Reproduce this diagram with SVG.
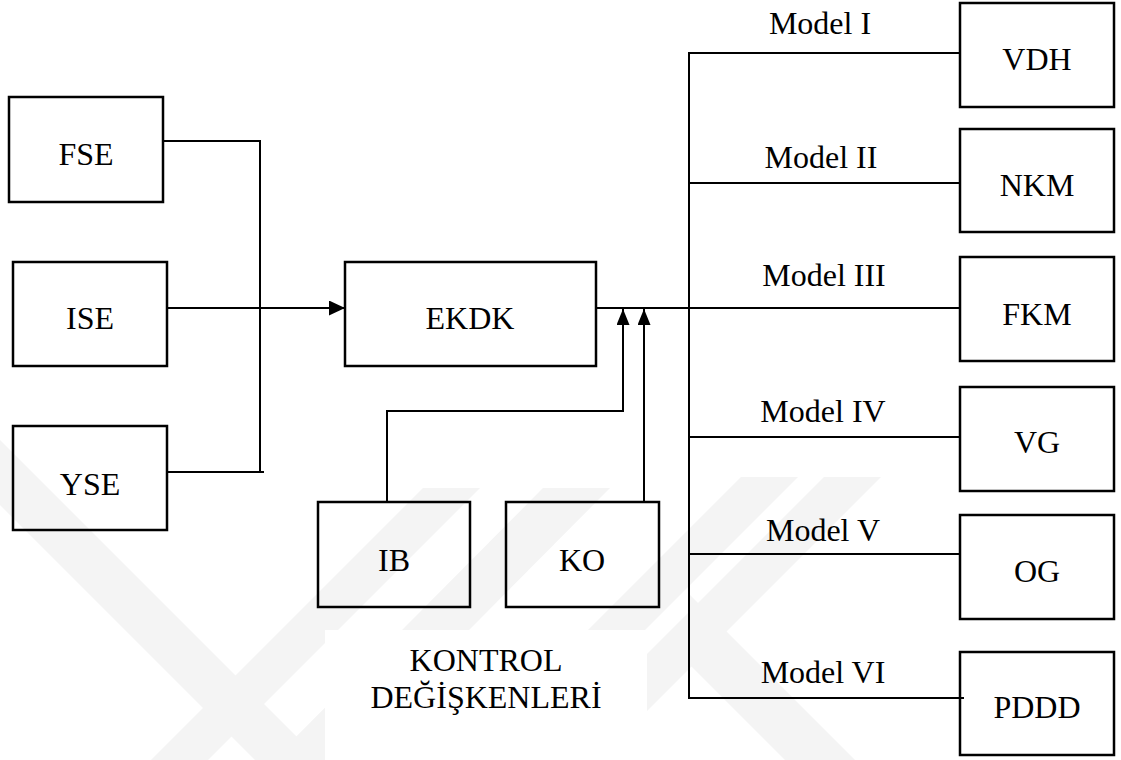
<svg xmlns="http://www.w3.org/2000/svg" width="1121" height="760" viewBox="0 0 1121 760">
<style>
  .box { fill: none; stroke: #000; stroke-width: 2.5; }
  .ln { fill: none; stroke: #000; stroke-width: 2; }
  .t { font-family: 'Liberation Serif', 'DejaVu Serif', serif; font-size: 32px; fill: #000; text-anchor: middle; }
  .wm { fill: #f4f4f4; stroke: none; }
</style>
<defs>
  <marker id="arr" viewBox="0 0 16 15" refX="16" refY="7.5" markerWidth="16" markerHeight="15" markerUnits="userSpaceOnUse" orient="auto">
    <path d="M0,0 L16,7.5 L0,15 Z" fill="#000"/>
  </marker>
  <marker id="arrUp" viewBox="0 0 16 13" refX="16" refY="6.5" markerWidth="16" markerHeight="13" markerUnits="userSpaceOnUse" orient="auto">
    <path d="M0,0 L16,6.5 L0,13 Z" fill="#000"/>
  </marker>
</defs>
<rect width="1121" height="760" fill="#fff"/>
<g id="watermark">
  <polygon class="wm" points="0,440 0,505 255,760 320,760"/>
  <polygon class="wm" points="423,488 480,488 208,760 151,760"/>
  <polygon class="wm" points="543,488 610,488 340,760 273,760"/>
  <polygon class="wm" points="741,477 798,477 515,760 458,760"/>
  <polygon class="wm" points="824,477 881,477 598,760 541,760"/>
  <polygon class="wm" points="690,595 690,665 785,760 855,760"/>
  <rect x="325" y="630" width="322" height="130" fill="#fff"/>
</g>
<g id="connectors">
  <polyline class="ln" points="163,141 260,141 260,472"/>
  <line class="ln" x1="167" y1="472" x2="264" y2="472"/>
  <line class="ln" x1="167" y1="308" x2="345" y2="308" marker-end="url(#arr)"/>
  <line class="ln" x1="596" y1="308" x2="960" y2="308"/>
  <polyline class="ln" points="387,502 387,411 623,411 623,309" marker-end="url(#arrUp)"/>
  <line class="ln" x1="644" y1="502" x2="644" y2="309" marker-end="url(#arrUp)"/>
  <line class="ln" x1="689" y1="53" x2="689" y2="699"/>
  <line class="ln" x1="688" y1="53" x2="960" y2="53"/>
  <line class="ln" x1="689" y1="183" x2="960" y2="183"/>
  <line class="ln" x1="689" y1="437" x2="960" y2="437"/>
  <line class="ln" x1="689" y1="554" x2="960" y2="554"/>
  <line class="ln" x1="688" y1="698" x2="964" y2="698"/>
</g>
<g id="labels">
  <text class="t" x="820" y="34">Model I</text>
  <text class="t" x="821" y="168">Model II</text>
  <text class="t" x="824" y="286">Model III</text>
  <text class="t" x="823" y="422">Model IV</text>
  <text class="t" x="823" y="541">Model V</text>
  <text class="t" x="823" y="683">Model VI</text>
  <text class="t" x="486" y="671">KONTROL</text>
  <text class="t" x="486" y="708">DEĞİŞKENLERİ</text>
</g>
<g id="FSE"><rect class="box" x="9" y="97" width="154" height="105"/><text class="t" x="86" y="165">FSE</text></g>
<g id="ISE"><rect class="box" x="13" y="262" width="154" height="104"/><text class="t" x="90" y="329">ISE</text></g>
<g id="YSE"><rect class="box" x="13" y="426" width="154" height="104"/><text class="t" x="90" y="495">YSE</text></g>
<g id="EKDK"><rect class="box" x="345" y="262" width="251" height="104"/><text class="t" x="470" y="329">EKDK</text></g>
<g id="IB"><rect class="box" x="318" y="502" width="152" height="105"/><text class="t" x="394" y="571">IB</text></g>
<g id="KO"><rect class="box" x="506" y="502" width="153" height="105"/><text class="t" x="582" y="571">KO</text></g>
<g id="VDH"><rect class="box" x="960" y="3" width="154" height="104"/><text class="t" x="1037" y="70">VDH</text></g>
<g id="NKM"><rect class="box" x="960" y="129" width="154" height="103"/><text class="t" x="1037" y="196">NKM</text></g>
<g id="FKM"><rect class="box" x="960" y="257" width="154" height="104"/><text class="t" x="1037" y="325">FKM</text></g>
<g id="VG"><rect class="box" x="960" y="387" width="154" height="104"/><text class="t" x="1037" y="453">VG</text></g>
<g id="OG"><rect class="box" x="960" y="515" width="154" height="104"/><text class="t" x="1037" y="582">OG</text></g>
<g id="PDDD"><rect class="box" x="960" y="652" width="154" height="103"/><text class="t" x="1037" y="718">PDDD</text></g>
</svg>
